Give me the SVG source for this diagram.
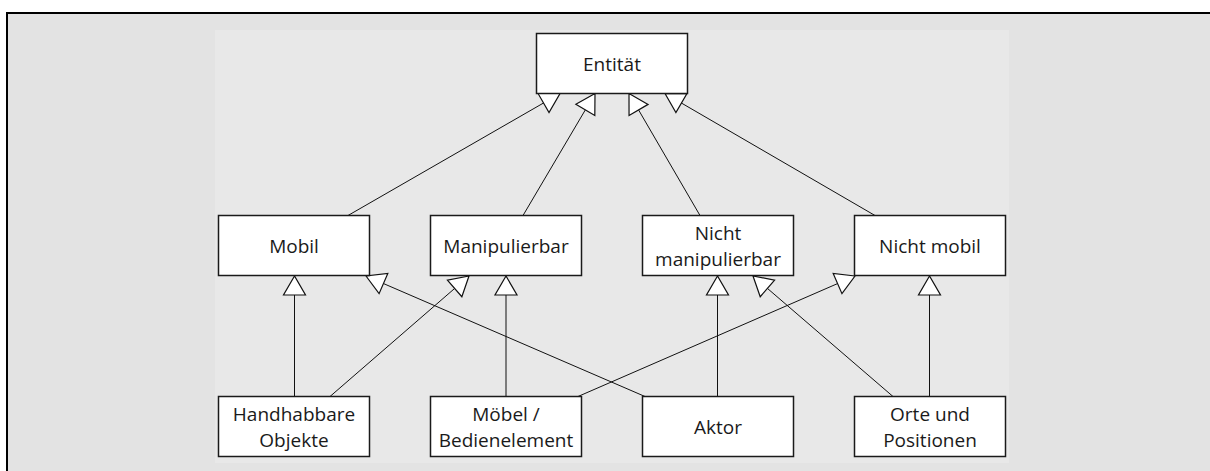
<svg xmlns="http://www.w3.org/2000/svg" width="1210" height="471" viewBox="0 0 1210 471">
  <style>
    .node rect { fill: #ffffff; stroke: #1a1a1a; stroke-width: 1.5; }
    .node text { font-family: "Open Sans", "Noto Sans", sans-serif; font-size: 19px; fill: #1a1a1a; text-anchor: middle; }
    .edge { stroke: #111111; stroke-width: 1; fill: none; marker-end: url(#inherit); }
  </style>
  <defs>
    <!-- hollow UML generalisation triangle, tip at the line end -->
    <marker id="inherit" markerUnits="userSpaceOnUse" viewBox="-21 -13 23 26" markerWidth="23" markerHeight="26" refX="0" refY="0" orient="auto">
      <path d="M0,0 L-19,-11 L-19,11 Z" fill="#ffffff" stroke="#111111" stroke-width="1.2" stroke-linejoin="miter"/>
    </marker>
  </defs>

  <!-- frame -->
  <rect x="6" y="12" width="1204" height="459" fill="#e3e3e3"/>
  <rect x="215" y="30" width="794" height="433" fill="#e8e8e8"/>
  <line x1="6" y1="13" x2="1210" y2="13" stroke="#000" stroke-width="2"/>
  <line x1="7" y1="12" x2="7" y2="471" stroke="#000" stroke-width="2"/>

  <g id="connectors">
    <line class="edge" x1="348" y1="215.5" x2="560" y2="93.5"/>
    <line class="edge" x1="523" y1="215.5" x2="595" y2="93.5"/>
    <line class="edge" x1="700" y1="215.5" x2="629" y2="93.5"/>
    <line class="edge" x1="875" y1="215.5" x2="665" y2="93.5"/>
    <line class="edge" x1="294.5" y1="396.5" x2="294.5" y2="276"/>
    <line class="edge" x1="330" y1="396.5" x2="469" y2="276"/>
    <line class="edge" x1="506" y1="396.5" x2="506" y2="276"/>
    <line class="edge" x1="578" y1="396.5" x2="855" y2="276"/>
    <line class="edge" x1="645" y1="396.5" x2="366" y2="276"/>
    <line class="edge" x1="717.5" y1="396.5" x2="717.5" y2="276"/>
    <line class="edge" x1="893" y1="396.5" x2="753" y2="276"/>
    <line class="edge" x1="929.5" y1="396.5" x2="929.5" y2="276"/>
  </g>

  <g id="entitaet" class="node">
    <rect x="536.5" y="33.5" width="151" height="60"/>
    <text x="612" y="70.5">Entität</text>
  </g>

  <g id="mobil" class="node">
    <rect x="218.5" y="215.5" width="151" height="60"/>
    <text x="294" y="252.5">Mobil</text>
  </g>
  <g id="manipulierbar" class="node">
    <rect x="430.5" y="215.5" width="151" height="60"/>
    <text x="506" y="252.5">Manipulierbar</text>
  </g>
  <g id="nicht-manipulierbar" class="node">
    <rect x="642.5" y="215.5" width="151" height="60"/>
    <text x="718" y="240">Nicht</text>
    <text x="718" y="266">manipulierbar</text>
  </g>
  <g id="nicht-mobil" class="node">
    <rect x="854.5" y="215.5" width="151" height="60"/>
    <text x="930" y="252.5">Nicht mobil</text>
  </g>

  <g id="handhabbare-objekte" class="node">
    <rect x="218.5" y="396.5" width="151" height="60"/>
    <text x="294" y="420.5">Handhabbare</text>
    <text x="294" y="446.5">Objekte</text>
  </g>
  <g id="moebel" class="node">
    <rect x="430.5" y="396.5" width="151" height="60"/>
    <text x="506" y="420.5">Möbel /</text>
    <text x="506" y="446.5">Bedienelement</text>
  </g>
  <g id="aktor" class="node">
    <rect x="642.5" y="396.5" width="151" height="60"/>
    <text x="718" y="433.5">Aktor</text>
  </g>
  <g id="orte" class="node">
    <rect x="854.5" y="396.5" width="151" height="60"/>
    <text x="930" y="420.5">Orte und</text>
    <text x="930" y="446.5">Positionen</text>
  </g>
</svg>
